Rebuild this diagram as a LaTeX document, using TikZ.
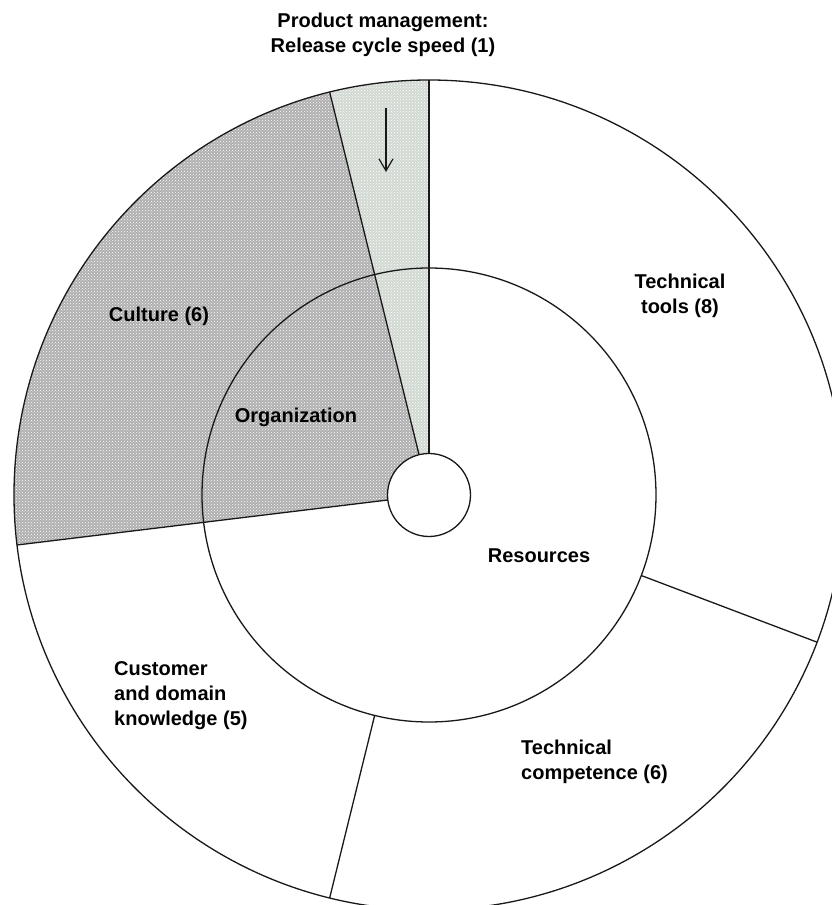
\documentclass[tikz,border=0pt]{standalone}
\usepackage{fontspec}
\setmainfont{Liberation Sans}
\usetikzlibrary{arrows.meta,patterns}

\definecolor{orgfill}{RGB}{176,176,176}
\definecolor{pmfill}{RGB}{210,216,210}

\begin{document}
\begin{tikzpicture}[x=1pt,y=1pt,
  edge/.style={line width=1.3pt, draw=black!90},
  lbl/.style={font=\fontsize{20}{25}\selectfont\bfseries, align=center, inner sep=0pt, text=black},
  lbll/.style={lbl, align=left, anchor=west},
  dots/.style={pattern=crosshatch dots, pattern color=white}]

\useasboundingbox (-429,-410) rectangle (403,495);

\begin{scope}
  \clip (-429,-410) rectangle (403,495);

  % Organization / Culture sectors
  \fill[orgfill] (103.85:41.5) -- (103.85:415)
    arc[start angle=103.85, end angle=186.92, radius=415] -- (186.92:41.5) -- cycle;
  \fill[dots] (103.85:41.5) -- (103.85:415)
    arc[start angle=103.85, end angle=186.92, radius=415] -- (186.92:41.5) -- cycle;
  % Product management sector
  \fill[pmfill] (90:41.5) -- (90:415)
    arc[start angle=90, end angle=103.85, radius=415] -- (103.85:41.5) -- cycle;
  \fill[dots] (90:41.5) -- (90:415)
    arc[start angle=90, end angle=103.85, radius=415] -- (103.85:41.5) -- cycle;

  % rings
  \draw[edge] (0,0) circle (415);
  \draw[edge] (0,0) circle (227);

  % sector borders
  \draw[edge] (90:41.5) -- (90:415);
  \draw[edge] (103.85:41.5) -- (103.85:415);
  \draw[edge] (186.92:41.5) -- (186.92:415);
  \draw[edge] (-20.77:227) -- (-20.77:415);
  \draw[edge] (-103.85:227) -- (-103.85:415);

  % hub
  \filldraw[edge, fill=white] (0,0) circle (41.5);
\end{scope}

% labels
\node[lbl] (pm) at (-46,460) {Product management:\\Release cycle speed (1)};
\node[lbl] (tools) at (251,199) {Technical\\tools (8)};
\node[lbl] (culture) at (-270,179) {Culture (6)};
\node[lbl] (org) at (-133,78) {Organization};
\node[lbl] (res) at (110,-61) {Resources};
\node[lbll] (cust) at (-315,-201) {Customer\\and domain\\knowledge (5)};
\node[lbll] (comp) at (92,-267) {Technical\\competence (6)};

% pointer to the product management sector
\coordinate (pmTail) at (-43,387);
\coordinate (pmHead) at (-43,323);
\draw[line width=1.2pt, black!90, -{Straight Barb[length=12pt, width=14pt, line width=1.2pt]}] (pmTail) -- (pmHead);

\end{tikzpicture}
\end{document}
